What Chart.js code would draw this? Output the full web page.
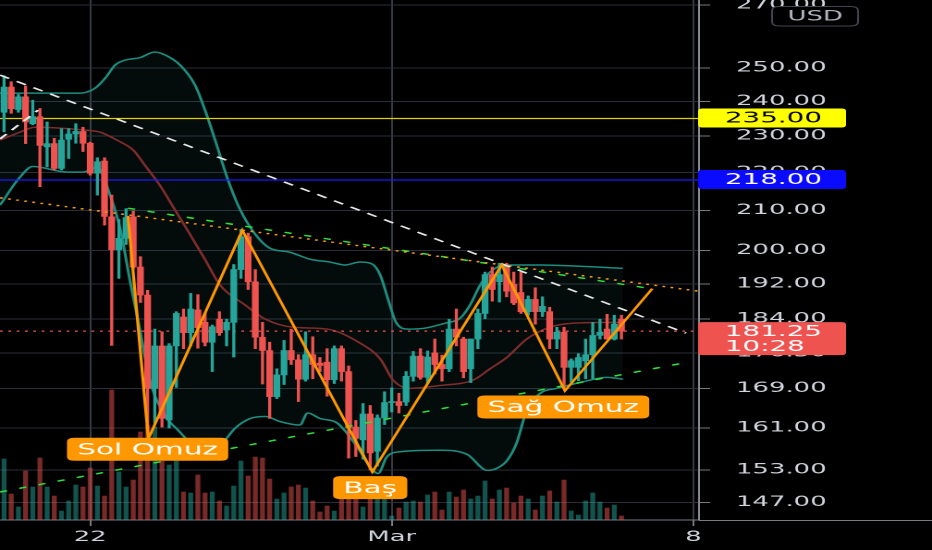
<!DOCTYPE html>
<html>
<head>
<meta charset="utf-8">
<script src="https://cdn.jsdelivr.net/npm/chart.js@4.4.1/dist/chart.umd.min.js"></script>
<style>
  html, body { margin: 0; padding: 0; background: #000; overflow: hidden; }
  #wrap { width: 932px; height: 550px; overflow: hidden; }
  /* the reference screenshot is stretched horizontally */
  #canvas { display: block; transform: scaleX(1.849206); transform-origin: 0 0; }
</style>
</head>
<body>
<div id="wrap"><canvas id="canvas" width="504" height="550"></canvas></div>
<script>
// 4h candles, index 0..86
var opens = [
  236.8, 244.2, 237.6, 241.3, 233.5, 235.5, 227.0, 227.9, 221.1, 229.1,
  230.6, 231.3, 228.0, 219.8, 223.1, 208.4, 200.2, 203.0, 208.4, 196.0,
  189.4, 169.0, 178.0, 162.6, 178.0, 184.4, 180.9, 186.0, 183.2, 178.8,
  183.9, 181.5, 183.2, 195.4, 203.4, 192.5, 179.9, 177.0, 167.3, 171.8,
  177.0, 175.0, 170.9, 176.1, 174.3, 174.5, 170.8, 177.4, 172.5, 161.2,
  158.7, 163.8, 156.5, 163.0, 166.1, 166.3, 166.2, 171.5, 175.8, 171.3,
  176.5, 174.0, 173.1, 181.7, 179.5, 173.1, 179.5, 185.2, 194.2, 192.5,
  196.0, 191.9, 190.0, 185.6, 188.4, 185.6, 185.6, 179.5, 181.0, 173.4,
  173.4, 174.8, 176.1, 180.3, 181.7, 179.5, 183.9
];
var highs = [
  247.6, 245.8, 242.0, 244.5, 240.3, 237.9, 234.0, 229.4, 232.1, 232.1,
  233.5, 232.5, 228.3, 224.0, 224.0, 214.0, 207.7, 210.5, 209.9, 198.5,
  190.5, 181.7, 181.1, 178.5, 185.6, 186.2, 189.8, 189.5, 185.3, 182.6,
  185.6, 183.9, 196.6, 205.2, 204.3, 195.4, 183.2, 178.8, 173.1, 179.2,
  181.7, 176.1, 181.1, 180.0, 175.5, 177.4, 178.0, 178.0, 173.7, 162.5,
  165.9, 165.5, 163.6, 168.3, 169.1, 168.0, 172.5, 176.8, 177.4, 176.9,
  179.5, 176.0, 183.9, 186.2, 179.9, 179.5, 186.2, 194.8, 196.0, 196.9,
  196.9, 194.8, 194.8, 189.2, 191.1, 189.0, 186.6, 182.1, 182.1, 175.2,
  176.3, 179.5, 183.2, 183.9, 185.0, 184.8, 184.8
];
var lows = [
  231.2, 236.5, 236.8, 227.9, 233.2, 216.2, 221.5, 220.7, 220.7, 223.8,
  228.0, 225.7, 219.3, 214.0, 206.3, 178.1, 193.3, 201.5, 195.7, 187.7,
  160.5, 162.0, 161.2, 161.0, 169.2, 177.4, 178.0, 177.5, 178.0, 172.5,
  180.3, 178.0, 175.6, 193.3, 190.7, 177.4, 169.9, 162.9, 166.9, 169.8,
  174.0, 166.3, 170.5, 171.0, 172.5, 167.4, 170.0, 170.5, 155.2, 155.5,
  155.0, 153.0, 153.7, 161.7, 164.2, 164.0, 165.5, 170.5, 170.9, 170.0,
  172.0, 170.5, 172.5, 178.0, 171.2, 170.2, 177.4, 184.0, 188.0, 187.8,
  189.0, 187.2, 185.2, 184.8, 182.8, 184.5, 177.4, 177.4, 169.0, 170.3,
  170.6, 171.0, 171.0, 179.5, 179.5, 179.3, 179.5
];
var closes = [
  244.2, 237.8, 241.3, 234.0, 235.5, 227.4, 227.9, 221.1, 228.9, 230.6,
  231.3, 228.0, 219.8, 222.9, 208.5, 200.2, 203.0, 208.2, 196.0, 189.4,
  169.0, 178.0, 162.9, 178.0, 185.2, 180.9, 186.2, 182.0, 178.8, 182.2,
  180.9, 183.2, 195.4, 203.4, 192.5, 179.9, 177.0, 167.3, 171.8, 177.0,
  175.0, 170.9, 176.1, 174.0, 173.8, 170.8, 177.4, 172.5, 161.0, 159.0,
  163.8, 156.2, 163.0, 166.1, 166.3, 165.5, 171.5, 175.8, 171.3, 175.6,
  174.0, 173.1, 181.7, 179.9, 172.5, 179.5, 185.2, 194.2, 190.7, 194.2,
  190.3, 187.6, 185.6, 188.4, 185.6, 186.8, 179.5, 181.0, 173.4, 174.8,
  175.5, 176.1, 180.3, 181.0, 179.5, 182.8, 181.25
];
var volumes = [
  61, 26, 13, 49, 33, 62, 33, 24, 9, 19,
  35, 33, 52, 34, 24, 130, 48, 33, 40, 88,
  95, 93, 59, 55, 59, 28, 27, 45, 27, 28,
  19, 14, 34, 59, 44, 63, 62, 41, 21, 27,
  33, 35, 32, 19, 8, 14, 9, 23, 22, 25,
  13, 28, 23, 23, 4, 12, 18, 19, 18, 25,
  28, 10, 28, 23, 30, 21, 24, 39, 21, 30,
  32, 17, 24, 21, 10, 24, 29, 18, 40, 9,
  5, 19, 27, 18, 12, 15, 4
];

// Bollinger bands, read at candle positions
var bbUpperIdx = [-0.56, 5.0, 10.6, 12.7, 14.1, 15.5, 16.9, 18.9, 21.0, 22.4, 24.5, 26.6, 28.0, 29.4, 31.2, 32.9, 35.0, 37.0, 39.8, 42.6, 45.4, 47.5, 49.6, 51.3, 52.4, 53.5, 54.6, 56.3, 58.6, 61.4, 63.5, 64.9, 66.3, 67.7, 69.8, 74.7, 80.2, 86.2];
var bbUpper = [242.4, 242.4, 242.4, 243.9, 246.9, 250.9, 252.4, 253.1, 254.9, 254.0, 250.9, 244.8, 237.4, 228.9, 218.0, 210.2, 204.0, 200.6, 199.6, 197.9, 197.2, 196.5, 197.2, 196.7, 194.1, 188.4, 183.2, 181.7, 181.9, 183.0, 184.1, 187.1, 191.7, 194.8, 196.5, 196.5, 196.2, 195.7];
var bbLowerIdx = [-0.56, 2.2, 4.0, 8.8, 11.0, 13.0, 14.8, 16.2, 17.5, 18.9, 20.3, 22.4, 24.5, 26.6, 28.0, 30.1, 32.2, 34.3, 36.4, 38.4, 41.2, 42.3, 44.0, 46.4, 49.2, 51.0, 52.1, 53.3, 54.5, 60.7, 64.5, 67.3, 68.7, 70.1, 71.4, 72.8, 74.7, 77.0, 80.2, 84.0, 86.2];
var bbLower = [211.4, 218.7, 221.6, 220.1, 220.1, 221.4, 213.8, 205.2, 193.1, 181.7, 170.7, 163.6, 160.2, 157.3, 156.7, 157.6, 161.0, 162.9, 163.3, 162.3, 161.6, 164.0, 162.9, 162.0, 157.3, 153.5, 152.3, 155.4, 156.3, 156.7, 155.9, 152.9, 153.3, 154.8, 158.1, 164.5, 168.0, 169.0, 170.2, 171.3, 170.9];
var bbMiddleIdx = [-0.56, 2.2, 4.3, 11.3, 13.4, 15.7, 18.0, 19.6, 21.7, 23.8, 25.9, 28.0, 30.1, 33.6, 36.4, 40.3, 45.0, 49.6, 52.4, 54.2, 56.5, 60.7, 65.3, 67.7, 70.1, 72.8, 76.0, 79.2, 86.2];
var bbMiddle = [228.9, 231.1, 232.5, 231.7, 231.1, 228.9, 226.1, 222.0, 216.6, 210.2, 204.0, 197.8, 191.7, 187.1, 183.9, 182.1, 181.7, 178.6, 175.2, 170.7, 169.0, 169.6, 170.7, 173.1, 175.6, 179.5, 182.1, 183.0, 183.2];

// drawings
var resistanceLevels = [235, 218];
var lastPrice = 181.25;
var countdown = '10:28';
var whiteTrendIdx = [-0.56, 95.0], whiteTrend = [247.8, 180.8];
var whiteShortIdx = [-0.56, 4.74], whiteShort = [229.2, 237.4];
var orangeDotIdx = [-0.56, 96.8], orangeDot = [213.3, 190.3];
var greenUpIdx = [17.27, 89.7], greenUp = [210.6, 191.0];
var greenLowIdx = [-0.56, 95.26], greenLow = [148.9, 174.5];
var patternIdx = [17.27, 20.1, 33.19, 51.3, 69.32, 78.13, 90.29];
var pattern = [208.6, 158.9, 205.0, 152.6, 196.5, 168.5, 190.9];
var patternLabels = ['Sol Omuz', 'Baş', 'Sağ Omuz'];
var patternLabelIdx = [20.0, 51.0, 77.9];
var patternLabelPrice = [156.9, 149.7, 165.2];

// axes
var priceTicks = [147, 153, 161, 169, 176.5, 184, 192, 200, 210, 220, 230, 240, 250, 270];
var timeTickIdx = [12, 54, 96];
var timeTickLabels = ['22', 'Mar', '8'];

var X_MIN = -0.56, X_MAX = 96.8;
var UP = '#26a69a', DOWN = '#ef5350';

function pts(xs, ys) {
  return xs.map(function(x, i) { return {x: x, y: ys[i]}; });
}
function flat(v) {
  return [{x: X_MIN, y: v}, {x: X_MAX, y: v}];
}
function rrect(ctx, x, y, w, h, r) {
  ctx.beginPath();
  ctx.moveTo(x + r, y);
  ctx.lineTo(x + w - r, y);
  ctx.quadraticCurveTo(x + w, y, x + w, y + r);
  ctx.lineTo(x + w, y + h - r);
  ctx.quadraticCurveTo(x + w, y + h, x + w - r, y + h);
  ctx.lineTo(x + r, y + h);
  ctx.quadraticCurveTo(x, y + h, x, y + h - r);
  ctx.lineTo(x, y + r);
  ctx.quadraticCurveTo(x, y, x + r, y);
  ctx.closePath();
}

var rising = closes.map(function(c, i) { return c >= opens[i]; });
var candleColors = rising.map(function(u) { return u ? UP : DOWN; });
var volumeColors = rising.map(function(u) { return u ? 'rgba(38,166,154,0.5)' : 'rgba(239,83,80,0.5)'; });

var wicks = opens.map(function(o, i) { return {x: i, y: [lows[i], highs[i]]}; });
var bodies = opens.map(function(o, i) { return {x: i, y: [o, closes[i]]}; });
var vols = volumes.map(function(v, i) { return {x: i, y: v}; });

function lineSet(data, color, width, dash, order) {
  return {
    type: 'line', data: data, borderColor: color, borderWidth: width,
    borderDash: dash, pointRadius: 0, fill: false, order: order, yAxisID: 'y'
  };
}

var labelsPlugin = {
  id: 'labels',
  afterDatasetsDraw: function(chart) {
    var ctx = chart.ctx, xs = chart.scales.x, ys = chart.scales.y;
    ctx.save();
    ctx.font = "16px 'DejaVu Sans'";
    ctx.textAlign = 'center';
    ctx.textBaseline = 'middle';
    patternLabels.forEach(function(t, i) {
      var cx = xs.getPixelForValue(patternLabelIdx[i]);
      var cy = ys.getPixelForValue(patternLabelPrice[i]);
      var w = ctx.measureText(t).width + 11;
      ctx.fillStyle = '#ff9800';
      rrect(ctx, cx - w / 2, cy - 11.5, w, 23, 4);
      ctx.fill();
      ctx.fillStyle = '#ffffff';
      ctx.fillText(t, cx, cy + 1);
    });
    ctx.restore();
  },
  afterDraw: function(chart) {
    var ctx = chart.ctx, ca = chart.chartArea, ys = chart.scales.y;
    ctx.save();
    // bottom rule under the price scale
    ctx.strokeStyle = '#787b86';
    ctx.lineWidth = 1;
    ctx.beginPath();
    ctx.moveTo(ca.right, ca.bottom + 0.5);
    ctx.lineTo(chart.width, ca.bottom + 0.5);
    ctx.stroke();

    ctx.font = "15px 'DejaVu Sans'";
    ctx.textAlign = 'left';
    ctx.textBaseline = 'middle';
    var tagX = ca.right - 0.5, tagW = 80;
    var tagBg = ['#ffff00', '#0a0aff'], tagFg = ['#000000', '#ffffff'];
    resistanceLevels.forEach(function(p, i) {
      var y = ys.getPixelForValue(p);
      ctx.fillStyle = tagBg[i];
      rrect(ctx, tagX, y - 10, tagW, 19, 2.5);
      ctx.fill();
      ctx.fillStyle = tagFg[i];
      ctx.fillText(p.toFixed(2), ca.right + 14, y);
    });
    var ly = ys.getPixelForValue(lastPrice);
    ctx.fillStyle = DOWN;
    rrect(ctx, tagX, ly - 9, tagW, 33, 2.5);
    ctx.fill();
    ctx.fillStyle = '#ffffff';
    ctx.fillText(lastPrice.toFixed(2), ca.right + 14, ly + 1);
    ctx.fillText(countdown, ca.right + 14, ly + 16);

    // currency badge
    ctx.fillStyle = '#000000';
    rrect(ctx, 417.5, 6.5, 46.5, 19.5, 4);
    ctx.fill();
    ctx.strokeStyle = '#434651';
    ctx.stroke();
    ctx.font = "14px 'DejaVu Sans'";
    ctx.textAlign = 'center';
    ctx.fillStyle = '#b2b5be';
    ctx.fillText('USD', 440.8, 17);
    ctx.restore();
  }
};

Chart.defaults.font.family = "'DejaVu Sans', sans-serif";
Chart.defaults.font.size = 14;

var config = {
  type: 'bar',
  data: {
    datasets: [
      {
        type: 'line', data: pts(bbUpperIdx, bbUpper), borderColor: '#1f8d7f', borderWidth: 1.5,
        pointRadius: 0, cubicInterpolationMode: 'monotone', fill: '+1',
        backgroundColor: 'rgba(38,166,154,0.07)', order: 10, yAxisID: 'y'
      },
      {
        type: 'line', data: pts(bbLowerIdx, bbLower), borderColor: '#1f8d7f', borderWidth: 1.5,
        pointRadius: 0, cubicInterpolationMode: 'monotone', fill: false, order: 10, yAxisID: 'y'
      },
      {
        type: 'line', data: pts(bbMiddleIdx, bbMiddle), borderColor: '#7e2c2c', borderWidth: 1.5,
        pointRadius: 0, cubicInterpolationMode: 'monotone', fill: false, order: 9, yAxisID: 'y'
      },
      {
        type: 'bar', data: vols, backgroundColor: volumeColors, barThickness: 2,
        grouped: false, yAxisID: 'yv', order: 8
      },
      lineSet(flat(resistanceLevels[0]), '#e2cf00', 1.3, [], 7),
      lineSet(flat(resistanceLevels[1]), '#1a1aff', 1.3, [], 7),
      lineSet(flat(lastPrice), '#ef5350', 1.3, [1.5, 3], 7),
      {
        type: 'bar', data: wicks, backgroundColor: candleColors, barThickness: 1,
        grouped: false, yAxisID: 'y', order: 6
      },
      {
        type: 'bar', data: bodies, backgroundColor: candleColors, barThickness: 3,
        minBarLength: 1, grouped: false, yAxisID: 'y', order: 5
      },
      lineSet(pts(whiteTrendIdx, whiteTrend), '#e8e8e8', 1.5, [6, 5], 3),
      lineSet(pts(whiteShortIdx, whiteShort), '#e8e8e8', 1.5, [6, 5], 3),
      lineSet(pts(orangeDotIdx, orangeDot), '#f59a1b', 1.5, [1.5, 3], 3),
      lineSet(pts(greenUpIdx, greenUp), '#2fe03c', 1.5, [4, 7], 3),
      lineSet(pts(greenLowIdx, greenLow), '#2fe03c', 1.5, [4, 7], 3),
      lineSet(pts(patternIdx, pattern), '#ff9800', 1.6, [], 1)
    ]
  },
  options: {
    responsive: false,
    animation: false,
    devicePixelRatio: 2,
    events: [],
    layout: { padding: 0 },
    plugins: { legend: { display: false }, tooltip: { enabled: false } },
    scales: {
      x: {
        type: 'linear', min: X_MIN, max: X_MAX, offset: false,
        afterBuildTicks: function(s) { s.ticks = timeTickIdx.map(function(v) { return {value: v}; }); },
        afterFit: function(s) { s.height = 30; s.paddingLeft = 0; s.paddingRight = 0; },
        ticks: {
          autoSkip: false, maxRotation: 0, color: '#d1d4dc', padding: 3,
          callback: function(v) { return timeTickLabels[timeTickIdx.indexOf(v)]; }
        },
        grid: { color: '#363a45', tickColor: '#787b86', tickLength: 6, offset: false },
        border: { color: '#787b86' }
      },
      y: {
        type: 'logarithmic', position: 'right', min: 143.9, max: 271.6,
        afterBuildTicks: function(s) { s.ticks = priceTicks.map(function(v) { return {value: v}; }); },
        afterFit: function(s) { s.width = 126; s.paddingTop = 0; s.paddingBottom = 0; },
        ticks: {
          autoSkip: false, color: '#d1d4dc', padding: 14,
          callback: function(v) { return Number(v).toFixed(2); }
        },
        grid: { color: '#2b2e39', tickColor: '#787b86', tickLength: 6 },
        border: { color: '#8a8d96' }
      },
      yv: { type: 'linear', display: false, min: 0, max: 520 }
    }
  },
  plugins: [labelsPlugin]
};

window.onload = function() {
  var ctx = document.getElementById('canvas').getContext('2d');
  window.myChart = new Chart(ctx, config);
};
</script>
</body>
</html>
